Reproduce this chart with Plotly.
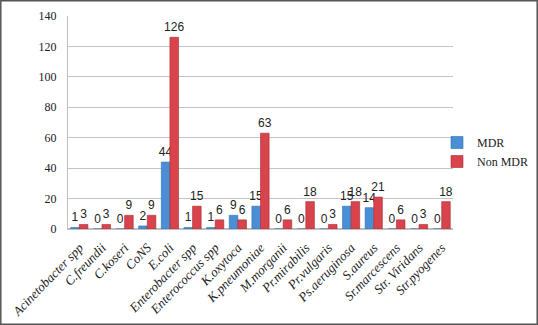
import plotly.graph_objects as go

categories = ["Acinetobacter spp", "C.freundii", "C.koseri", "CoNS", "E.coli",
              "Enterobacter spp", "Enterococcus spp", "K.oxytoca", "K.pneumoniae",
              "M.morganii", "Pr.mirabilis", "Pr.vulgaris", "Ps.aeruginosa",
              "S.aureus", "Sr.marcescens", "Str. Viridans", "Str.pyogenes"]
mdr = [1, 0, 0, 2, 44, 1, 1, 9, 15, 0, 0, 0, 15, 14, 0, 0, 0]
non_mdr = [3, 3, 9, 9, 126, 15, 6, 6, 63, 6, 18, 3, 18, 21, 6, 3, 18]
y_ticks = [0, 20, 40, 60, 80, 100, 120, 140]

W, H = 538, 325
ML, MR, MT, MB = 68, 85, 16, 96
pw = W - ML - MR
ph = H - MT - MB

def px_x(p):
    return (p - ML) / pw

def px_y(p):
    return (H - MB - p) / ph

fig = go.Figure()
fig.add_trace(go.Bar(
    name="MDR", x=categories, y=mdr,
    marker=dict(color="#4A8FD6", line=dict(color="#2F6FB0", width=0.6)),
    text=[str(v) for v in mdr], textposition="outside",
    textfont=dict(family="Liberation Sans", size=12, color="#222"),
    cliponaxis=False,
))
fig.add_trace(go.Bar(
    name="Non MDR", x=categories, y=non_mdr,
    marker=dict(color="#D9434C", line=dict(color="#A82B33", width=0.6)),
    text=[str(v) for v in non_mdr], textposition="outside",
    textfont=dict(family="Liberation Sans", size=12, color="#222"),
    cliponaxis=False,
))

fig.update_layout(
    width=W, height=H,
    margin=dict(l=ML, r=MR, t=MT, b=MB, autoexpand=False),
    paper_bgcolor="white", plot_bgcolor="white",
    barmode="group", bargap=0.24, bargroupgap=0.0,
    showlegend=True,
    legend=dict(x=px_x(437), y=px_y(128), xanchor="left", yanchor="top",
                font=dict(family="Liberation Serif", size=12, color="#222"),
                bgcolor="rgba(0,0,0,0)", tracegroupgap=0),
    uniformtext=dict(mode="show", minsize=12),
    shapes=[dict(type="rect", xref="paper", yref="paper",
                 x0=px_x(0.8), x1=px_x(537.2), y0=px_y(324.2), y1=px_y(0.8),
                 line=dict(color="#555", width=1.5), fillcolor="rgba(0,0,0,0)")],
)
fig.update_xaxes(
    tickangle=-46, automargin=False,
    tickfont=dict(family="Liberation Serif", size=13, color="#222", style="italic"),
    showline=True, linecolor="#bfbfbf", linewidth=1,
    ticks="", showgrid=False, ticklabelstandoff=5,
)
fig.update_yaxes(
    range=[0, 140], tickvals=y_ticks, automargin=False,
    tickfont=dict(family="Liberation Serif", size=12, color="#222"),
    showgrid=True, gridcolor="#c4c4c4", gridwidth=1,
    showline=True, linecolor="#bfbfbf", linewidth=1,
    zeroline=True, zerolinecolor="#bfbfbf",
    ticks="", ticklen=0, ticklabelstandoff=8,
)

fig.write_html("out.html", config={"displayModeBar": False},
               post_script="document.body.style.margin='0';")
